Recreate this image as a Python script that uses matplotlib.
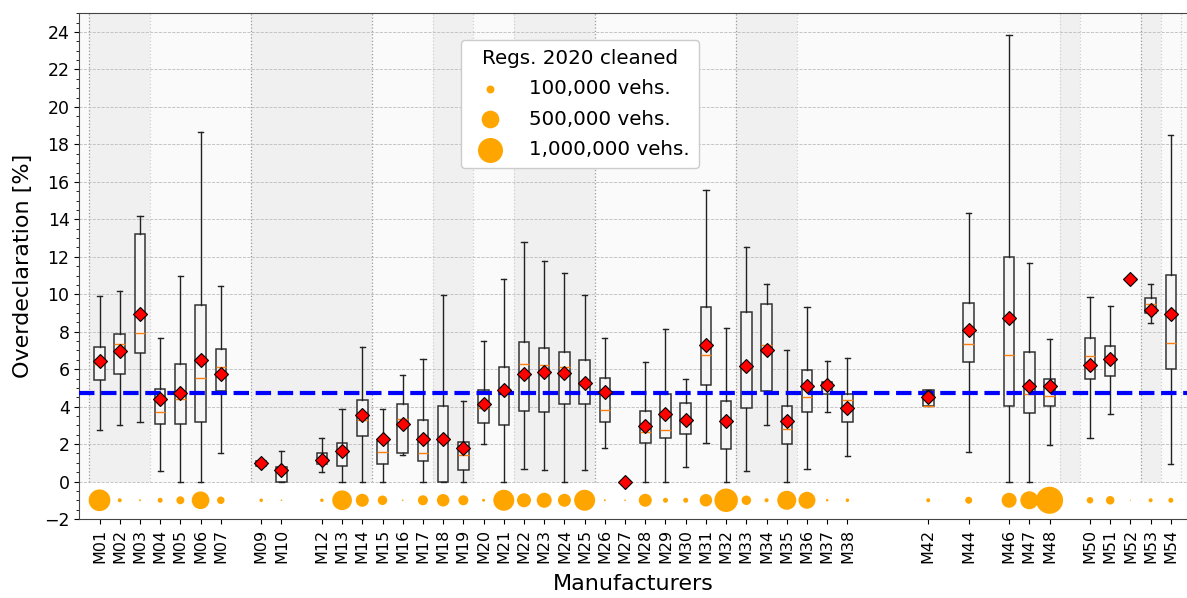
import numpy as np
import matplotlib
matplotlib.use("Agg")
import matplotlib.pyplot as plt
from matplotlib.ticker import MultipleLocator

# manufacturers shown on the x axis (position = number in the name)
manufacturers = ['M01', 'M02', 'M03', 'M04', 'M05', 'M06', 'M07', 'M09', 'M10',
                 'M12', 'M13', 'M14', 'M15', 'M16', 'M17', 'M18', 'M19', 'M20',
                 'M21', 'M22', 'M23', 'M24', 'M25', 'M26', 'M27', 'M28', 'M29',
                 'M30', 'M31', 'M32', 'M33', 'M34', 'M35', 'M36', 'M37', 'M38',
                 'M42', 'M44', 'M46', 'M47', 'M48', 'M50', 'M51', 'M52', 'M53',
                 'M54']
nan = np.nan
# box statistics [%]
whis_lo = [2.73, 3.02, 3.19, 0.58, 0.00, 0.00, 1.54, 0.85, 0.00,
           0.50, 0.00, 0.00, 0.00, 1.44, 0.00, 0.00, 0.00, 2.02,
           0.00, 0.68, 0.61, 0.00, 0.63, 1.80, nan, 0.00, 0.00,
           0.77, 2.04, 0.00, 0.57, 3.03, 0.00, 0.68, 3.72, 1.38,
           4.02, 1.58, 0.00, 0.00, 1.93, 2.33, 3.63, nan, 8.44,
           0.95]
q1 = [5.41, 5.76, 6.87, 3.05, 3.09, 3.19, 4.85, 0.85, 0.00,
      0.95, 0.81, 2.44, 0.95, 1.52, 1.10, 0.00, 0.60, 3.14,
      3.02, 3.77, 3.73, 4.16, 4.12, 3.18, nan, 2.08, 2.32,
      2.55, 5.17, 1.72, 3.91, 4.81, 2.00, 3.73, 4.66, 3.20,
      4.02, 6.37, 4.02, 3.66, 4.04, 5.50, 5.66, nan, 9.00,
      6.03]
median = [6.29, 7.36, 7.95, 3.72, 4.43, 5.51, 6.12, 0.95, 0.72,
          1.00, 1.57, 3.27, 1.60, 3.36, 1.52, 2.25, 1.40, 3.95,
          4.87, 6.28, 6.24, 6.10, 5.20, 3.80, nan, 2.64, 2.76,
          3.30, 6.76, 3.09, 6.03, 7.31, 2.82, 4.51, 5.10, 4.38,
          4.02, 7.32, 6.77, 4.70, 4.56, 6.71, 6.50, nan, 9.47,
          7.41]
q3 = [7.21, 7.90, 13.20, 4.94, 6.28, 9.40, 7.10, 1.10, 0.75,
      1.52, 2.06, 4.33, 2.14, 4.14, 3.26, 4.02, 2.10, 4.90,
      6.12, 7.46, 7.12, 6.94, 6.48, 5.51, nan, 3.79, 4.66,
      4.21, 9.31, 4.32, 9.07, 9.50, 4.03, 5.98, 5.32, 4.66,
      4.88, 9.55, 11.97, 6.89, 5.48, 7.69, 7.26, nan, 9.78,
      11.04]
whis_hi = [9.88, 10.18, 14.16, 7.68, 10.95, 18.65, 10.43, 1.10, 1.63,
           2.34, 3.85, 7.17, 3.89, 5.68, 6.52, 9.94, 4.28, 7.51,
           10.81, 12.79, 11.77, 11.11, 9.94, 7.68, nan, 6.38, 8.15,
           5.49, 15.57, 8.22, 12.51, 10.57, 7.04, 9.31, 6.43, 6.62,
           4.88, 14.32, 23.84, 11.69, 7.59, 9.87, 9.37, nan, 10.55,
           18.51]
mean = [6.42, 6.99, 8.93, 4.43, 4.75, 6.51, 5.76, 1.00, 0.61,
        1.15, 1.63, 3.54, 2.29, 3.09, 2.25, 2.25, 1.78, 4.15,
        4.87, 5.74, 5.87, 5.81, 5.28, 4.78, 0.00, 2.99, 3.58,
        3.30, 7.31, 3.22, 6.19, 7.04, 3.23, 5.08, 5.18, 3.93,
        4.52, 8.08, 8.71, 5.11, 5.09, 6.21, 6.55, 10.80, 9.15,
        8.96]
# registrations 2020 (vehicles)
registrations = [753000, 26000, 6000, 40000, 102000, 500000, 90000, 20000, 4000,
                 20000, 620000, 270000, 144000, 4000, 160000, 250000, 160000, 14000,
                 705000, 314000, 360000, 270000, 705000, 6000, 4000, 270000, 40000,
                 40000, 250000, 880000, 144000, 26000, 580000, 460000, 10000, 20000,
                 26000, 78000, 360000, 520000, 1170000, 68000, 116000, 2000, 26000,
                 40000]
overall_mean = 4.75
legend_sizes = [100000, 500000, 1000000]
legend_labels = ['100,000 vehs.', '500,000 vehs.', '1,000,000 vehs.']
# shaded manufacturer groups (start, end positions)
bands = [(0.5, 3.5), (8.5, 14.5), (17.5, 19.5), (21.5, 25.5), (32.5, 35.5),
         (48.5, 49.5), (52.5, 53.5)]
dark_lines = [0.5, 8.5, 14.5, 25.5, 32.5, 52.5]
light_lines = [3.5, 17.5, 19.5, 21.5, 35.5, 48.5, 49.5, 53.5, 54.5]

pos = np.array([int(m[1:]) for m in manufacturers])
S_MAX = 324.0  # marker area for 1,000,000 vehs.

fig = plt.figure(figsize=(11.87, 5.98), dpi=100)
ax = fig.add_axes([79.3 / 1187, 1 - 519 / 598, 1 - 79.3 / 1187, (519 - 13.3) / 598])
ax.set_facecolor('white')

# backgrounds above zero
ax.fill_between([0, 55], 0, 25, color='#fafafa', zorder=0, lw=0)
for a, b in bands:
    ax.fill_between([a, b], 0, 25, color='#f0f0f0', zorder=0.1, lw=0)
ax.vlines(dark_lines, 0, 25, colors='#999999', linestyles=':', lw=0.9, zorder=0.5)
ax.vlines(light_lines, 0, 25, colors='#d0d0d0', linestyles=':', lw=0.9, zorder=0.5)

ax.set_axisbelow(True)
ax.yaxis.grid(True, which='major', linestyle='--', color='#bdbdbd', lw=0.6)

stats = []
for i in range(len(manufacturers)):
    if np.isnan(q1[i]):
        continue
    stats.append(dict(whislo=whis_lo[i], q1=q1[i], med=median[i], q3=q3[i],
                      whishi=whis_hi[i], mean=mean[i], fliers=[], position=pos[i]))
box_pos = [s.pop('position') for s in stats]

ax.bxp(stats, positions=box_pos, widths=0.52, patch_artist=True, showmeans=False,
       showfliers=False, manage_ticks=False,
       boxprops=dict(facecolor='#f5f5f5', edgecolor='#333333', lw=1.1),
       whiskerprops=dict(color='#222222', lw=1.0),
       capprops=dict(color='#222222', lw=1.0),
       medianprops=dict(color='#ff7f0e', lw=1.0))

ax.axhline(overall_mean, color='blue', lw=3, ls='--', zorder=3)

ax.plot(pos, mean, ls='none', marker='D', ms=7.5, mfc='red', mec='black',
        mew=0.8, zorder=4)

sizes = np.array(registrations) / 1e6 * S_MAX
ax.scatter(pos, np.full(len(pos), -1.0), s=sizes, color='orange', lw=0, zorder=4)

handles = [ax.scatter([], [], s=v / 1e6 * S_MAX, color='orange', lw=0)
           for v in legend_sizes]
leg = ax.legend(handles, legend_labels, title='Regs. 2020 cleaned', loc='upper center',
                bbox_to_anchor=(0.452, 0.947), borderaxespad=0, fontsize=14.3,
                title_fontsize=14.3, scatterpoints=1, handletextpad=1.0,
                labelspacing=0.57, framealpha=1, borderpad=0.45)
leg.get_frame().set_edgecolor('#cccccc')

ax.set_xlim(0, 54.8)
ax.set_ylim(-2, 25)
ax.set_xticks(pos)
ax.set_xticklabels(manufacturers, rotation=90, fontsize=11.5)
ax.yaxis.set_major_locator(MultipleLocator(2))
ax.yaxis.set_minor_locator(MultipleLocator(0.5))
ax.tick_params(axis='y', labelsize=12.5)
ax.set_xlabel('Manufacturers', fontsize=16, labelpad=8)
ax.set_ylabel('Overdeclaration [%]', fontsize=16, labelpad=8)
ax.spines['right'].set_visible(False)
for s in ['left', 'bottom', 'top']:
    ax.spines[s].set_color('#444444')

fig.savefig('out.png', dpi=100)
